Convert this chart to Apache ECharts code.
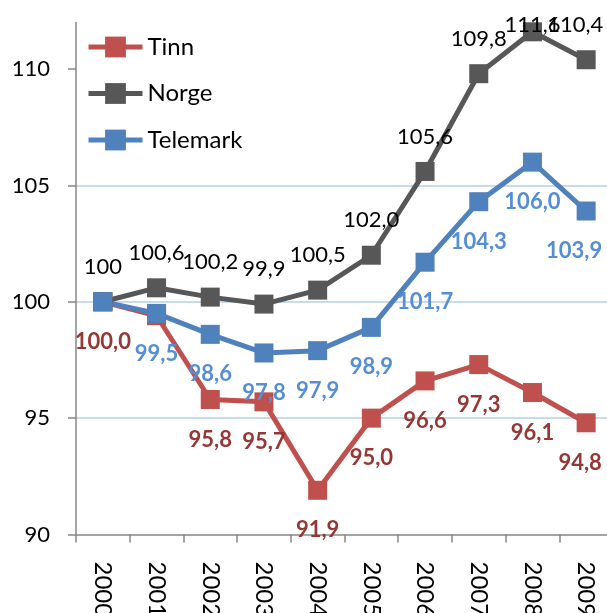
<!DOCTYPE html>
<html>
<head>
<meta charset="utf-8">
<script src="https://cdn.jsdelivr.net/npm/echarts@6/dist/echarts.min.js"></script>
<style>
html,body{margin:0;padding:0;background:#fff;}
#c{width:607px;height:613px;}
</style>
</head>
<body>
<div id="c"></div>
<script>
var years = ['2000','2001','2002','2003','2004','2005','2006','2007','2008','2009'];
var tinn = [100.0, 99.4, 95.8, 95.7, 91.9, 95.0, 96.6, 97.3, 96.1, 94.8];
var norge = [100, 100.6, 100.2, 99.9, 100.5, 102.0, 105.6, 109.8, 111.6, 110.4];
var telemark = [100.0, 99.5, 98.6, 97.8, 97.9, 98.9, 101.7, 104.3, 106.0, 103.9];
var yTicks = [90, 95, 100, 105, 110];

var FONT = 'Lato';
function fmt(v) { return v.toFixed(1).replace('.', ','); }

// label placement tweaks (not data)
var hidden = { Tinn: [1], Telemark: [0] };
var shifts = {
  Norge: { 8: [0, -7], 9: [-11, -35] },
  Telemark: { 9: [-12, 40] },
  Tinn: { 9: [-6, 40] }
};

function build(name, values) {
  return values.map(function (v, i) {
    var item = { value: v };
    if ((hidden[name] || []).indexOf(i) >= 0) {
      item.label = { show: false };
    } else if (shifts[name] && shifts[name][i]) {
      item.label = { offset: shifts[name][i] };
    }
    return item;
  });
}

function series(name, values, color, labelColor, bold, above) {
  return {
    name: name,
    type: 'line',
    data: build(name, values),
    symbol: 'rect',
    symbolSize: 19,
    lineStyle: { color: color, width: 5 },
    itemStyle: { color: color },
    animation: false,
    label: {
      show: true,
      position: 'inside',
      offset: above ? [0, -35] : [0, 40],
      color: labelColor,
      fontFamily: FONT,
      fontSize: 22,
      fontWeight: bold ? 'bold' : 'normal',
      formatter: function (p) {
        if (name === 'Norge' && p.dataIndex === 0) return String(p.value);
        return fmt(p.value);
      }
    }
  };
}

var chart = echarts.init(document.getElementById('c'), null, { renderer: 'canvas' });
chart.setOption({
  backgroundColor: '#ffffff',
  animation: false,
  grid: { left: 76, top: 22.5, width: 537, height: 512, containLabel: false, outerBoundsMode: 'none' },
  legend: {
    orient: 'vertical',
    left: 86,
    top: 35,
    itemWidth: 54,
    itemHeight: 26,
    itemGap: 22.5,
    padding: 0,
    lineStyle: { width: 5 },
    textStyle: { fontFamily: FONT, fontSize: 24, color: '#000' },
    data: ['Tinn', 'Norge', 'Telemark']
  },
  xAxis: {
    type: 'category',
    data: years,
    boundaryGap: true,
    axisLine: { show: true, lineStyle: { color: '#868686', width: 1.5 } },
    axisTick: { show: true, length: 8, alignWithLabel: false, lineStyle: { color: '#868686', width: 1.5 } },
    axisLabel: { rotate: -90, margin: 27, fontFamily: FONT, fontSize: 24, color: '#000' },
    splitLine: { show: false }
  },
  yAxis: {
    type: 'value',
    min: 90,
    max: 112,
    interval: 5,
    axisLine: { show: true, lineStyle: { color: '#868686', width: 1.5 } },
    axisTick: { show: true, length: 8, customValues: yTicks, lineStyle: { color: '#868686', width: 1.5 } },
    axisLabel: {
      margin: 26, fontFamily: FONT, fontSize: 22, color: '#000',
      customValues: yTicks,
      formatter: function (v) { return v % 5 === 0 ? String(v) : ''; }
    },
    splitLine: { show: true, showMinLine: false, showMaxLine: false, lineStyle: { color: '#b9cde5', width: 1.5 } }
  },
  series: [
    series('Tinn', tinn, '#c0504d', '#953735', true, false),
    series('Norge', norge, '#575757', '#000000', false, true),
    series('Telemark', telemark, '#4f81bd', '#558ed5', true, false)
  ]
});
</script>
</body>
</html>
